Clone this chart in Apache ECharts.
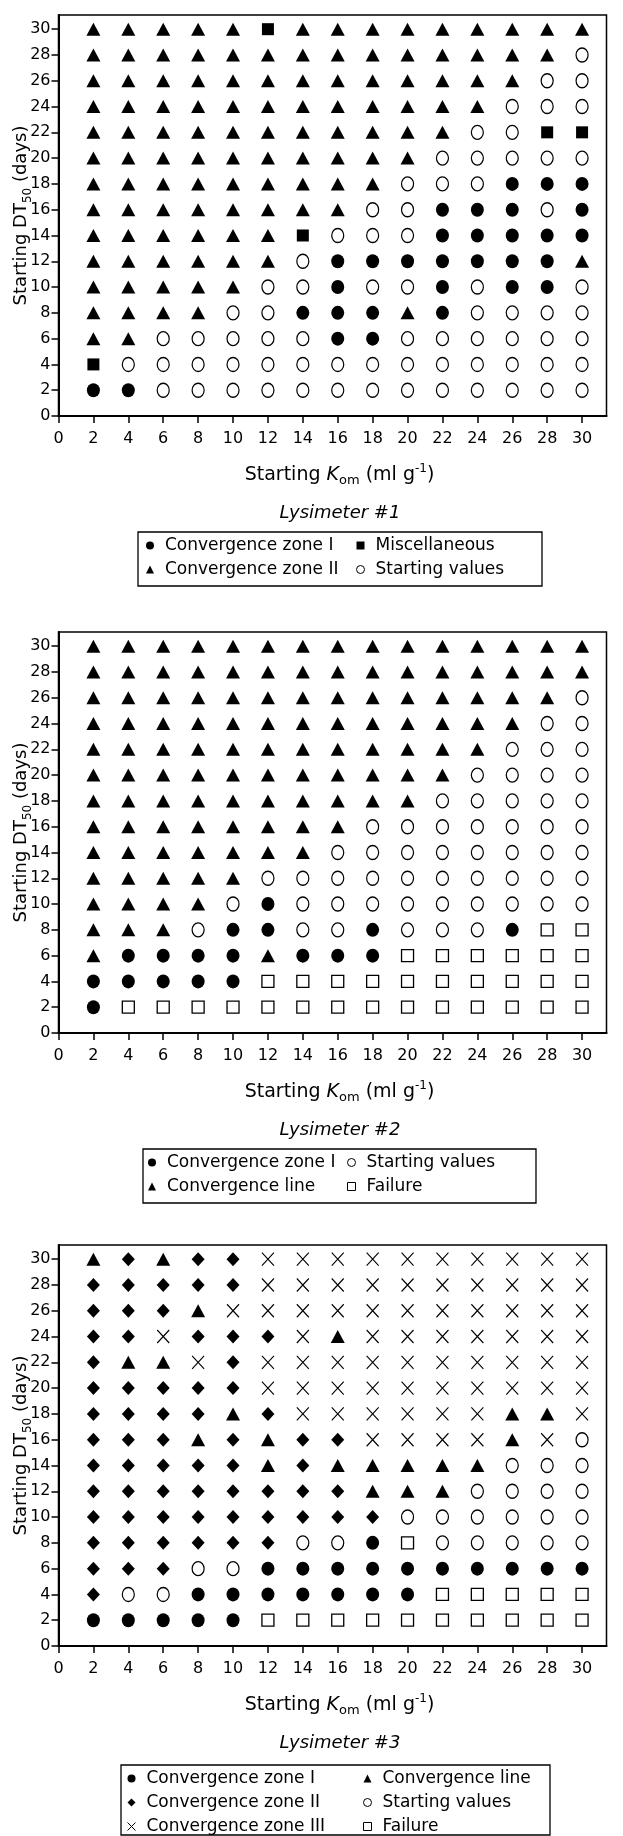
<!DOCTYPE html>
<html><head><meta charset="utf-8">
<script src="https://cdn.jsdelivr.net/npm/echarts@6/dist/echarts.min.js"></script>
<style>html,body{margin:0;padding:0;background:#fff}#c{width:623px;height:1836px}</style>
</head><body><div id="c"></div><script>
// ---------- data ----------
const komValues = [2,4,6,8,10,12,14,16,18,20,22,24,26,28,30];
const dt50Values = [30,28,26,24,22,20,18,16,14,12,10,8,6,4,2]; // row order (top to bottom)
const tickValues = [0,2,4,6,8,10,12,14,16,18,20,22,24,26,28,30];

// C = Convergence zone I, T = zone II / line, S = Miscellaneous, O = Starting values,
// F = Failure, D = Convergence zone II (diamond), X = Convergence zone III
const lys1Rows = [
 'T T T T T S T T T T T T T T T',
 'T T T T T T T T T T T T T T O',
 'T T T T T T T T T T T T T O O',
 'T T T T T T T T T T T T O O O',
 'T T T T T T T T T T T O O S S',
 'T T T T T T T T T T O O O O O',
 'T T T T T T T T T O O O C C C',
 'T T T T T T T T O O C C C O C',
 'T T T T T T S O O O C C C C C',
 'T T T T T T O C C C C C C C T',
 'T T T T T O O C O O C O C C O',
 'T T T T O O C C C T C O O O O',
 'T T O O O O O C C O O O O O O',
 'S O O O O O O O O O O O O O O',
 'C C O O O O O O O O O O O O O'
];
const lys2Rows = [
 'T T T T T T T T T T T T T T T',
 'T T T T T T T T T T T T T T T',
 'T T T T T T T T T T T T T T O',
 'T T T T T T T T T T T T T O O',
 'T T T T T T T T T T T T O O O',
 'T T T T T T T T T T T O O O O',
 'T T T T T T T T T T O O O O O',
 'T T T T T T T T O O O O O O O',
 'T T T T T T T O O O O O O O O',
 'T T T T T O O O O O O O O O O',
 'T T T T O C O O O O O O O O O',
 'T T T O C C O O C O O O C F F',
 'T C C C C T C C C F F F F F F',
 'C C C C C F F F F F F F F F F',
 'C F F F F F F F F F F F F F F'
];
const lys3Rows = [
 'T D T D D X X X X X X X X X X',
 'D D D D D X X X X X X X X X X',
 'D D D T X X X X X X X X X X X',
 'D D X D D D X T X X X X X X X',
 'D T T X D X X X X X X X X X X',
 'D D D D D X X X X X X X X X X',
 'D D D D T D X X X X X X T T X',
 'D D D T D T D D X X X X T X O',
 'D D D D D T D T T T T T O O O',
 'D D D D D D D D T T T O O O O',
 'D D D D D D D D D O O O O O O',
 'D D D D D D O O C F O O O O O',
 'D D D O O C C C C C C C C C C',
 'D O O C C C C C C C F F F F F',
 'C C C C C F F F F F F F F F F'
];
const lys1Names = {C:'Convergence zone I', T:'Convergence zone II', S:'Miscellaneous', O:'Starting values'};
const lys2Names = {C:'Convergence zone I', T:'Convergence line', O:'Starting values', F:'Failure'};
const lys3Names = {C:'Convergence zone I', D:'Convergence zone II', X:'Convergence zone III', T:'Convergence line', O:'Starting values', F:'Failure'};
const lys1LegendCols = [['C','T'],['S','O']];
const lys2LegendCols = [['C','T'],['O','F']];
const lys3LegendCols = [['C','D','X'],['T','O','F']];
const panelTitles = ['Lysimeter #1','Lysimeter #2','Lysimeter #3'];

// ---------- styles / layout ----------
const FONT = '"DejaVu Sans", sans-serif';
const CROSS = 'path://M0,0L10,10M10,0L0,10';
const markStyles = {
  C: {symbol:'circle', size:[13,14], item:{color:'#000', opacity:1}},
  T: {symbol:'triangle', size:[14,13], item:{color:'#000', opacity:1}},
  S: {symbol:'rect', size:[12,12], item:{color:'#000', opacity:1}},
  O: {symbol:'circle', size:[12,14], item:{color:'#fff', borderColor:'#000', borderWidth:1.3, opacity:1}},
  F: {symbol:'rect', size:[12,12], item:{color:'#fff', borderColor:'#000', borderWidth:1.3, opacity:1}},
  D: {symbol:'diamond', size:[13,14], item:{color:'#000', opacity:1}},
  X: {symbol:CROSS, size:[12,13], item:{color:'transparent', borderColor:'#000', borderWidth:1.2, opacity:1}}
};
const XMAX = 31.4, YMAX = 31.1;
const GL = 58.5, GW = 548, GH = 401;
const panels = [
  {rows:lys1Rows, names:lys1Names, cols:lys1LegendCols, bottom:416,  box:[138,404], icons:[150,360], legendShift:0},
  {rows:lys2Rows, names:lys2Names, cols:lys2LegendCols, bottom:1033, box:[143,393], icons:[152,351], legendShift:0},
  {rows:lys3Rows, names:lys3Names, cols:lys3LegendCols, bottom:1646, box:[121,429], icons:[131,367], legendShift:3}
];

const grids = [], xAxes = [], yAxes = [], series = [], legends = [], graphics = [];
const richX = {
  a:{fontSize:19, fontFamily:FONT, color:'#000', lineHeight:24},
  k:{fontSize:19, fontFamily:FONT, fontStyle:'italic', color:'#000', lineHeight:24},
  sub:{fontSize:13, fontFamily:FONT, color:'#000', lineHeight:12, verticalAlign:'bottom'},
  sup:{fontSize:12, fontFamily:FONT, color:'#000', lineHeight:12, verticalAlign:'top'}
};
const richY = {
  a:{fontSize:18, fontFamily:FONT, color:'#000', lineHeight:24},
  sub:{fontSize:12, fontFamily:FONT, color:'#000', lineHeight:12, verticalAlign:'bottom'}
};
panels.forEach((p, i) => {
  const B = p.bottom;
  grids.push({left:GL, top:B - GH, width:GW, height:GH, show:true, borderColor:'#000', borderWidth:1.5,
    backgroundColor:'transparent', containLabel:false, outerBoundsMode:'none'});
  const common = {
    gridIndex:i, type:'value', min:0, interval:2,
    axisLine:{onZero:false, lineStyle:{color:'#000', width:2}},
    axisTick:{length:7, lineStyle:{color:'#000', width:1.5}, customValues:tickValues},
    splitLine:{show:false}, nameLocation:'middle', nameMoveOverlap:false
  };
  xAxes.push(Object.assign({}, common, {
    max:XMAX,
    axisLabel:{customValues:tickValues, color:'#000', fontFamily:FONT, fontSize:16, margin:15},
    name:'{a|Starting }{k|K}{sub|om}{a| (ml g}{sup|-1}{a|)}', nameGap:47,
    nameTextStyle:{rich:richX, fontFamily:FONT, fontSize:19, color:'#000', padding:[0,0,0,14]}
  }));
  yAxes.push(Object.assign({}, common, {
    max:YMAX,
    axisLabel:{customValues:tickValues, color:'#000', fontFamily:FONT, fontSize:16, margin:8},
    name:'{a|Starting DT}{sub|50}{a| (days)}', nameGap:25, nameRotate:90,
    nameTextStyle:{rich:richY, fontFamily:FONT, fontSize:18, color:'#000'}
  }));
  Object.keys(p.names).forEach(code => {
    const pts = [];
    p.rows.forEach((row, r) => {
      row.split(' ').forEach((c, k) => { if (c === code) pts.push([komValues[k], dt50Values[r]]); });
    });
    const ms = markStyles[code];
    series.push({type:'scatter', name:p.names[code], xAxisIndex:i, yAxisIndex:i,
      symbol:ms.symbol, symbolSize:ms.size, itemStyle:ms.item, data:pts, silent:true, animation:false});
  });
  // legends (one per column) and box
  const nRows = p.cols[0].length;
  const s = p.legendShift;
  p.cols.forEach((col, ci) => {
    legends.push({
      left:p.icons[ci] - 4, top:B + 130 - 9 + s, width:260, height:120,
      orient:'vertical', padding:0, itemGap:7,
      itemWidth:8, itemHeight:8, selectedMode:false,
      formatter: n => '{t|' + n + '}',
      textStyle:{fontFamily:FONT, fontSize:17, color:'#000',
        rich:{t:{fontFamily:FONT, fontSize:17, color:'#000', lineHeight:18, padding:[0,0,0,6]}}},
      data: col.map(code => ({name:p.names[code], icon:markStyles[code].symbol,
        itemStyle:Object.assign({}, markStyles[code].item, {borderWidth: markStyles[code].item.borderWidth ? 1 : 0})}))
    });
  });
  const boxTop = B + 116 + s;
  const boxH = nRows === 2 ? 54 : Math.min(1835 - boxTop, 80);
  graphics.push({type:'rect', silent:true, shape:{x:p.box[0], y:boxTop, width:p.box[1], height:boxH},
    style:{fill:'none', stroke:'#000', lineWidth:1.3}});
  graphics.push({type:'text', silent:true, x:340, y:B+97,
    style:{text:panelTitles[i], fontFamily:FONT, fontSize:18, fontStyle:'italic', fill:'#000',
      align:'center', verticalAlign:'middle', textAlign:'center', textVerticalAlign:'middle'}});
});

const chart = echarts.init(document.getElementById('c'), null, {renderer:'canvas'});
chart.setOption({
  animation:false, backgroundColor:'#fff',
  grid:grids, xAxis:xAxes, yAxis:yAxes, series:series, legend:legends, graphic:graphics
});
</script></body></html>
